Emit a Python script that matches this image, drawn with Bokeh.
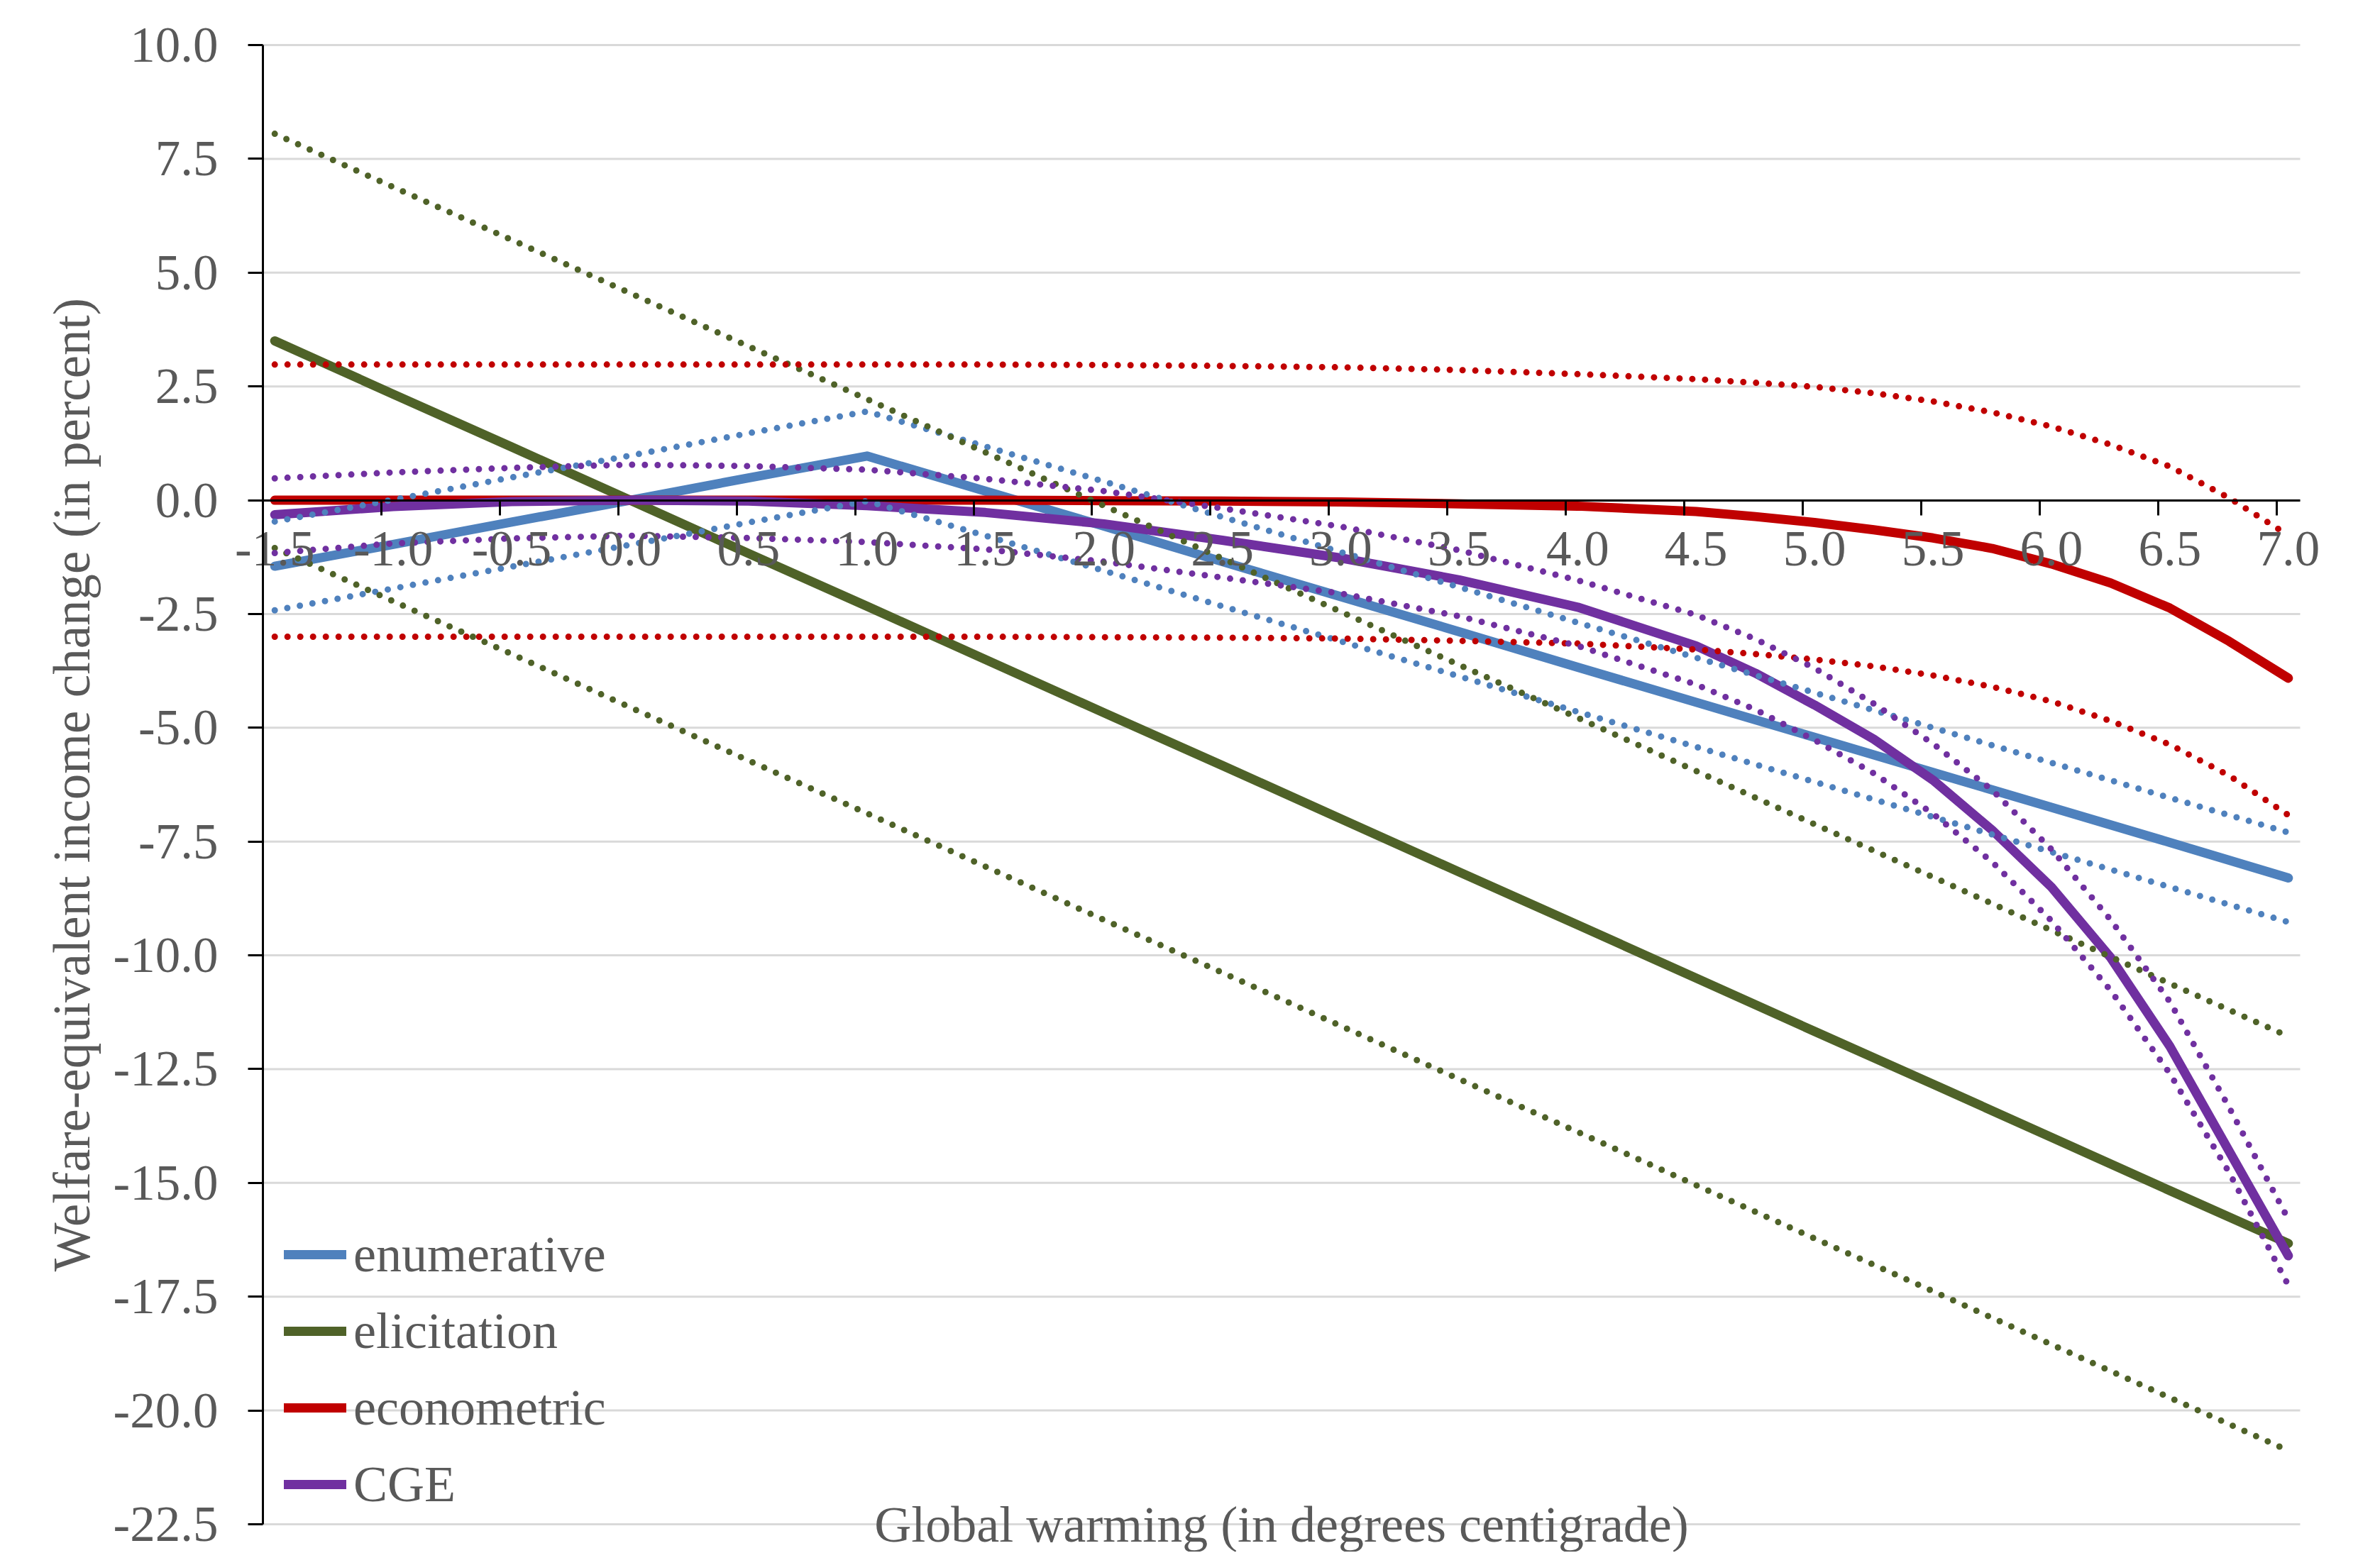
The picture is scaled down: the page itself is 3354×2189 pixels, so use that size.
import math
from bokeh.plotting import figure
from bokeh.models import Range1d, FixedTicker, PrintfTickFormatter, Label
from bokeh.embed import file_html
from bokeh.resources import INLINE

# ---------------- data ----------------
temps_coarse = [-1.5, -1.0, -0.5, 0.0, 0.5, 1.0, 1.5, 2.0, 2.5, 3.0, 3.5,
                4.0, 4.5, 5.0, 5.5, 6.0, 6.5, 7.0]
temps_fine = [-1.5, -1.0, -0.5, 0.0, 0.5, 1.0, 1.5, 2.0, 2.5, 3.0, 3.5,
              4.0, 4.5, 4.75, 5.0, 5.25, 5.5, 5.75, 6.0, 6.25, 6.5, 6.75, 7.0]

enumerative = [-1.45, -0.97, -0.48, 0.0, 0.49, 0.97, 0.2, -0.57, -1.35, -2.12,
               -2.89, -3.67, -4.44, -5.21, -5.98, -6.75, -7.52, -8.3]
enumerative_hi = [-0.47, 0.01, 0.5, 0.98, 1.47, 1.95, 1.18, 0.41, -0.37, -1.14,
                  -1.91, -2.69, -3.46, -4.23, -5.0, -5.77, -6.54, -7.3]
enumerative_lo = [-2.42, -1.94, -1.46, -0.98, -0.49, -0.02, -0.78, -1.55, -2.33, -3.1,
                  -3.87, -4.65, -5.42, -6.19, -6.96, -7.73, -8.5, -9.27]

elicitation = [3.5, 2.33, 1.17, 0.0, -1.17, -2.33, -3.5, -4.67, -5.83, -7.0,
               -8.17, -9.33, -10.5, -11.67, -12.83, -14.0, -15.17, -16.33]
elicitation_hi = [8.05, 6.88, 5.72, 4.55, 3.38, 2.22, 1.05, -0.12, -1.28, -2.45,
                  -3.62, -4.78, -5.95, -7.12, -8.28, -9.45, -10.62, -11.78]
elicitation_lo = [-1.05, -2.22, -3.38, -4.55, -5.72, -6.88, -8.05, -9.22, -10.38, -11.55,
                  -12.72, -13.88, -15.05, -16.22, -17.38, -18.55, -19.72, -20.88]

econometric = [0.0, 0.0, 0.0, 0.0, 0.0, 0.0, 0.0, -0.01, -0.02, -0.04, -0.08,
               -0.13, -0.25, -0.36, -0.49, -0.65, -0.83, -1.06, -1.4, -1.82, -2.37, -3.1, -3.91]
econometric_hi = [2.98, 2.98, 2.98, 2.98, 2.98, 2.98, 2.98, 2.97, 2.95, 2.92, 2.86,
                  2.77, 2.66, 2.58, 2.49, 2.35, 2.17, 1.93, 1.62, 1.22, 0.74, 0.05, -0.77]
econometric_lo = [-3.0, -3.0, -3.0, -3.0, -3.0, -3.0, -3.0, -3.01, -3.02, -3.04, -3.09,
                  -3.15, -3.28, -3.38, -3.5, -3.65, -3.85, -4.1, -4.42, -4.85, -5.37, -6.05, -6.92]

cge = [-0.32, -0.14, -0.03, 0.0, -0.02, -0.12, -0.27, -0.52, -0.88, -1.27, -1.75,
       -2.35, -3.2, -3.8, -4.5, -5.25, -6.15, -7.25, -8.5, -10.05, -12.0, -14.3, -16.6]
cge_hi = [0.48, 0.61, 0.71, 0.78, 0.75, 0.67, 0.47, 0.2, -0.18, -0.58, -1.1,
          -1.76, -2.52, -3.05, -3.69, -4.47, -5.35, -6.37, -7.67, -9.22, -11.02, -13.34, -15.8]
cge_lo = [-1.16, -0.95, -0.84, -0.78, -0.83, -0.92, -1.08, -1.35, -1.7, -2.05, -2.55,
          -3.2, -4.05, -4.6, -5.27, -6.0, -6.89, -7.95, -9.24, -10.77, -12.6, -14.77, -17.25]

x_tick_labels = [-1.5, -1.0, -0.5, 0.0, 0.5, 1.0, 1.5, 2.0, 2.5, 3.0, 3.5,
                 4.0, 4.5, 5.0, 5.5, 6.0, 6.5, 7.0]
y_ticks = [-22.5, -20.0, -17.5, -15.0, -12.5, -10.0, -7.5, -5.0, -2.5,
           0.0, 2.5, 5.0, 7.5, 10.0]

# ---------------- styling / layout ----------------
BLUE = "#4F81BD"
GREEN = "#4F6228"
RED = "#C00000"
PURPLE = "#7030A0"
TEXT = "#595959"
FONT = "Liberation Serif"

W, H = 3352, 2187
AX_LEFT, AX_TOP = 370, 63          # where the drawn axes start on the canvas
AX_RIGHT, AX_BOTTOM = 3241, 2148   # where the drawn axes end
YTITLE_CENTER = 101                # canvas x of the rotated y title

half_step = 0.05                   # half a category (categories every 0.1 degree)
x_lo = x_tick_labels[0] - half_step
x_hi = x_tick_labels[-1] + half_step
y_lo, y_hi = y_ticks[0], y_ticks[-1]

# the frame covers the whole canvas, so nothing that overhangs the axes is clipped
px_per_x = (AX_RIGHT - AX_LEFT) / (x_hi - x_lo)
px_per_y = (AX_BOTTOM - AX_TOP) / (y_hi - y_lo)
x_start = x_lo - AX_LEFT / px_per_x
x_end = x_lo + (W - AX_LEFT) / px_per_x
y_end = y_hi + AX_TOP / px_per_y
y_start = y_hi - (H - AX_TOP) / px_per_y

p = figure(width=W, height=H, output_backend="svg", toolbar_location=None,
           x_range=Range1d(x_start, x_end), y_range=Range1d(y_start, y_end),
           min_border_left=0, min_border_right=0,
           min_border_top=0, min_border_bottom=0)
p.title.visible = False
p.outline_line_color = None
p.background_fill_color = "white"
p.xgrid.visible = False
p.ygrid.visible = False

# horizontal gridlines limited to the axis extent
p.segment(x0=[x_lo] * len(y_ticks), x1=[x_hi] * len(y_ticks), y0=y_ticks, y1=y_ticks,
          line_color="#D9D9D9", line_width=3)

# y axis at the left end of the categories
ya = p.yaxis[0]
ya.fixed_location = x_lo
ya.bounds = (y_lo, y_hi)
ya.ticker = FixedTicker(ticks=y_ticks)
ya.formatter = PrintfTickFormatter(format="%.1f")
ya.axis_line_color = "black"
ya.axis_line_width = 3
ya.major_tick_line_color = "black"
ya.major_tick_line_width = 3
ya.major_tick_out = 21
ya.major_tick_in = 0
ya.minor_tick_line_color = None
ya.major_label_standoff = 42
ya.major_label_text_font = FONT
ya.major_label_text_font_size = "71px"
ya.major_label_text_color = TEXT

# x axis crossing at y = 0
xa = p.xaxis[0]
xa.fixed_location = 0
xa.bounds = (x_lo, x_hi)
boundaries = [t - half_step for t in x_tick_labels]
xa.ticker = FixedTicker(ticks=x_tick_labels, minor_ticks=boundaries)
xa.formatter = PrintfTickFormatter(format="%.1f")
xa.axis_line_color = "black"
xa.axis_line_width = 3
xa.major_tick_line_color = None
xa.major_tick_out = 21
xa.major_tick_in = 0
xa.minor_tick_line_color = "black"
xa.minor_tick_line_width = 3
xa.minor_tick_out = 21
xa.minor_tick_in = 0
xa.major_label_standoff = 24
xa.major_label_text_font = FONT
xa.major_label_text_font_size = "71px"
xa.major_label_text_color = TEXT

def solid(xs, ys, color, label):
    return p.line(xs, ys, line_color=color, line_width=13, line_cap="round",
                  line_join="round", legend_label=label)

def dotted(xs, ys, color):
    return p.line(xs, ys, line_color=color, line_width=9, line_dash="0 18",
                  line_cap="round", line_join="round")

solid(temps_coarse, enumerative, BLUE, "enumerative")
solid(temps_coarse, elicitation, GREEN, "elicitation")
solid(temps_fine, econometric, RED, "econometric")
solid(temps_fine, cge, PURPLE, "CGE")

dotted(temps_coarse, enumerative_hi, BLUE)
dotted(temps_coarse, enumerative_lo, BLUE)
dotted(temps_coarse, elicitation_hi, GREEN)
dotted(temps_coarse, elicitation_lo, GREEN)
dotted(temps_fine, econometric_hi, RED)
dotted(temps_fine, econometric_lo, RED)
dotted(temps_fine, cge_hi, PURPLE)
dotted(temps_fine, cge_lo, PURPLE)

# legend
lg = p.legend[0]
lg.location = (AX_LEFT + 30, 2 + (H - AX_BOTTOM))
lg.orientation = "vertical"
lg.background_fill_alpha = 0
lg.border_line_color = None
lg.padding = 0
lg.margin = 0
lg.spacing = 0
lg.glyph_width = 88
lg.glyph_height = 108
lg.label_height = 108
lg.label_standoff = 10
lg.label_text_font = FONT
lg.label_text_font_size = "72px"
lg.label_text_color = TEXT

# axis titles
p.add_layout(Label(x=(x_lo + x_hi) / 2, y=y_lo, text="Global warming (in degrees centigrade)",
                   text_align="center", text_baseline="middle",
                   text_font=FONT, text_font_size="72px", text_color=TEXT))
p.add_layout(Label(x=x_lo - (AX_LEFT - YTITLE_CENTER) / px_per_x, y=(y_lo + y_hi) / 2,
                   text="Welfare-equivalent income change (in percent)",
                   angle=math.pi / 2, angle_units="rad",
                   text_align="center", text_baseline="middle",
                   text_font=FONT, text_font_size="73px", text_color=TEXT))

open("out.html", "w").write(file_html(p, INLINE))
